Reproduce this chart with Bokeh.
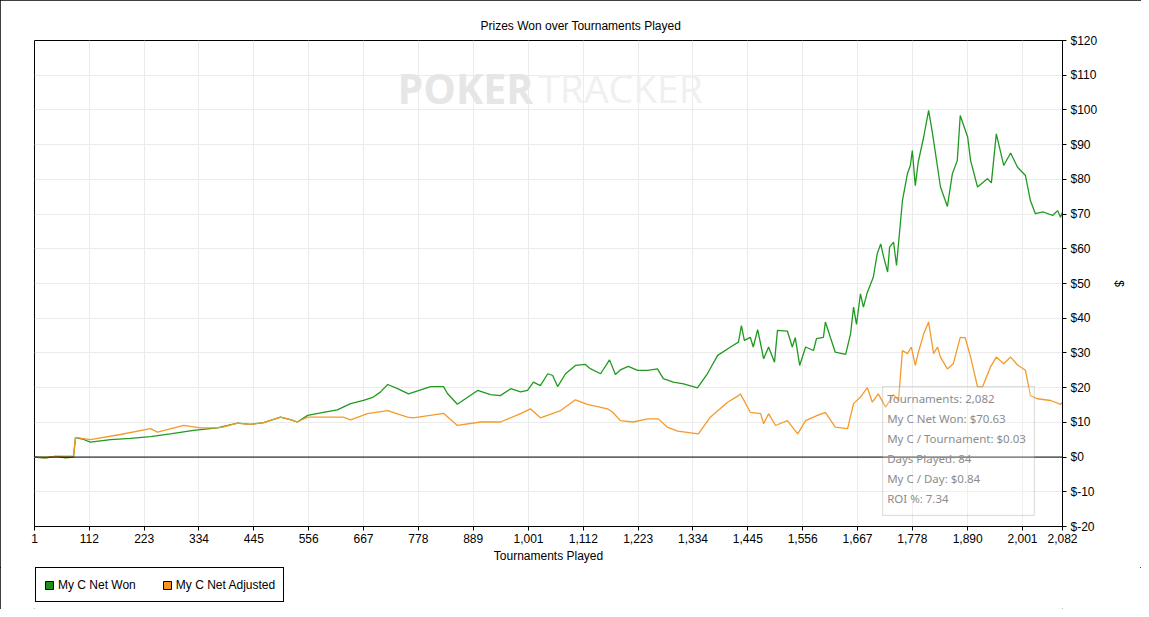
from bokeh.plotting import figure
from bokeh.layouts import column
from bokeh.models import (Range1d, FixedTicker, NumeralTickFormatter, PrintfTickFormatter,
                          LinearAxis, Span, Legend, LegendItem, BoxAnnotation, Label, Grid)
from bokeh.embed import file_html
from bokeh.resources import INLINE

# ---------------- data ----------------
won_t = [1, 23, 44, 64, 80, 84, 98, 114, 155, 195, 236, 276, 323, 371, 412, 438, 465, 499, 519,
         533, 554, 586, 614, 641, 667, 687, 701, 716, 736, 758, 803, 829, 837, 857, 898, 924,
         944, 965, 985, 999, 1011, 1025, 1040, 1050, 1060, 1076, 1096, 1116, 1127, 1147, 1165,
         1177, 1188, 1203, 1222, 1242, 1262, 1274, 1294, 1315, 1343, 1363, 1384, 1410, 1426,
         1432, 1438, 1450, 1456, 1465, 1477, 1487, 1499,
         1505, 1525, 1535, 1541, 1550, 1562, 1578, 1584, 1598, 1602, 1612, 1622, 1643, 1653,
         1659, 1665, 1673, 1679, 1687, 1699, 1707, 1714, 1720, 1728, 1732, 1740, 1746, 1758,
         1768, 1774, 1778, 1784, 1790, 1801, 1811, 1819, 1835, 1849, 1859, 1869, 1875, 1890,
         1896, 1910, 1930, 1938, 1948, 1963, 1977, 1991, 2007, 2017, 2027, 2043, 2062, 2072,
         2078, 2082]
won_v = [0, -0.3, 0.2, -0.2, 0, 5.6, 5.2, 4.3, 5.0, 5.4, 5.9, 6.7, 7.7, 8.4, 9.8, 9.4, 9.9, 11.5, 10.8,
         10.1, 12, 12.9, 13.6, 15.4, 16.3, 17.3, 18.7, 20.9, 19.7, 18.2, 20.3, 20.3, 18.3, 15.2, 19.2, 18.0,
         17.7, 19.7, 18.8, 19.2, 21.6, 20.6, 24, 23.5, 20.3, 24, 26.4, 26.7, 25.4, 24, 28,
         23.8, 25.2, 26.1, 25, 25, 25.4, 22.6, 21.6, 21.1, 19.9, 24, 29.3, 31.7, 33.1,
         37.9, 33.6, 34.5, 31.7, 36.7, 28.3, 31.7, 27.3,
         36.5, 36.3, 31.7, 34.4, 26.4, 31.7, 30.7, 34.1, 34.5, 38.9, 34.5, 30.2, 29.6, 35.5,
         43.2, 38.2, 47, 43.2, 47.5, 51.8, 58.6, 61.4, 57.6, 53.3, 60.5, 61.9, 55.2, 73.9,
         81.6, 84, 88.3, 78.2, 85, 92.2, 99.9, 93.1, 77.8, 72.2, 81.6, 85.4, 98.4, 92.2,
         85.4, 77.8, 80.2, 79, 93.1, 84, 87.6, 83.5, 81.1, 73.9, 70.1, 70.6, 69.6, 71,
         69.1, 70.63]

adj_t = [1, 23, 44, 80, 84, 114, 175, 236, 250, 303, 337, 371, 382, 412, 438, 465, 499, 519, 533,
         554, 626, 641, 675, 716, 756, 768, 829, 857, 904, 944, 985, 1005, 1025, 1066, 1096,
         1120, 1161, 1171, 1187, 1213, 1242, 1264, 1282, 1303, 1345, 1369, 1404, 1426, 1430,
         1450, 1471,
         1477, 1487, 1501, 1525, 1546, 1562, 1586, 1602, 1622, 1647, 1659, 1673, 1687, 1697,
         1709, 1724, 1740, 1750, 1758, 1768, 1776, 1784, 1790, 1801, 1811, 1821, 1829, 1835,
         1849, 1861, 1875, 1885, 1896, 1910, 1920, 1936, 1948, 1963, 1977, 1991, 2007, 2017,
         2031, 2058, 2078, 2082]
adj_v = [0, -0.2, 0.3, 0.3, 5.7, 5.0, 6.5, 8.2, 7.2, 9.1, 8.4, 8.4, 8.6, 9.8, 9.4, 9.9, 11.5, 10.8, 10.1,
         11.5, 11.5, 10.7, 12.5, 13.4, 11.5, 11.3, 12.6, 9.1, 10.1, 10.1, 12.5, 13.9, 11.3, 13.4, 16.5,
         15.2, 13.9, 13, 10.5, 10.1, 11, 11, 8.6, 7.5, 6.7, 11.5, 15.8, 17.7, 18.2,
         12.9, 12.5,
         9.6, 12.5, 9.1, 10.5, 6.7, 10.5, 12, 12.9, 8.6, 8.2, 15.4, 17.3, 20, 15.8,
         18.2, 14.4, 18, 16.3, 30.7, 29.8, 31.7, 26.4, 30, 35.5, 38.9, 29.8, 31.7, 28.8,
         25.4, 26.9, 34.5, 34.4, 28.8, 20.2, 20.2, 25.9, 28.8, 26.9, 28.8, 26.5, 25, 17.7,
         16.8, 16.3, 15.2, 15.8]

x_ticks = [1, 112, 223, 334, 445, 556, 667, 778, 889, 1001, 1112, 1223, 1334, 1445, 1556,
           1667, 1778, 1890, 2001, 2082]
y_ticks = [-20, -10, 0, 10, 20, 30, 40, 50, 60, 70, 80, 90, 100, 110, 120]

series_names = ["My C Net Won", "My C Net Adjusted"]
info_lines = ["Tournaments: 2,082", "My C Net Won: $70.63", "My C / Tournament: $0.03",
              "Days Played: 84", "My C / Day: $0.84", "ROI %: 7.34"]

GREEN = "#1f9a1f"
ORANGE = "#f59a2a"
FONT = "Liberation Sans"
NAN = float("nan")

p = figure(width=1141, height=567, output_backend="svg", toolbar_location=None,
           x_range=Range1d(1, 2082), y_range=Range1d(-20, 120),
           min_border_left=34, min_border_right=79, min_border_top=40, min_border_bottom=41,
           y_axis_location=None)
p.background_fill_color = "white"
p.border_fill_color = "white"
p.outline_line_color = "black"
p.outline_line_width = 1

p.title.text = "Prizes Won over Tournaments Played"
p.title.text_font = FONT
p.title.text_font_size = "12px"
p.title.text_font_style = "normal"
p.title.text_color = "black"
p.title.align = "left"
p.title.offset = 446
p.title.standoff = 15

# x axis
xa = p.xaxis[0]
xa.ticker = FixedTicker(ticks=x_ticks)
xa.formatter = NumeralTickFormatter(format="0,0")
xa.axis_label = "Tournaments Played"
xa.axis_label_text_font = FONT
xa.axis_label_text_font_size = "12px"
xa.axis_label_text_font_style = "normal"
xa.axis_label_text_color = "black"
xa.axis_label_standoff = 3
xa.major_label_text_font = FONT
xa.major_label_text_font_size = "12px"
xa.major_label_text_color = "black"
xa.major_label_standoff = 3
xa.major_tick_out = 4
xa.major_tick_in = 0
xa.minor_tick_out = 0
xa.minor_tick_in = 0
xa.axis_line_color = "black"
xa.major_tick_line_color = "black"

# right y axis
ya = LinearAxis(ticker=FixedTicker(ticks=y_ticks), formatter=PrintfTickFormatter(format="$%d"))
ya.axis_label = "$"
ya.axis_label_text_font = FONT
ya.axis_label_text_font_size = "12px"
ya.axis_label_text_font_style = "normal"
ya.axis_label_text_color = "black"
ya.axis_label_standoff = 12
ya.major_label_text_font = FONT
ya.major_label_text_font_size = "12px"
ya.major_label_text_color = "black"
ya.major_label_standoff = 4
ya.major_tick_out = 4
ya.major_tick_in = 0
ya.minor_tick_out = 0
ya.minor_tick_in = 0
ya.axis_line_color = "black"
ya.major_tick_line_color = "black"
p.add_layout(ya, "right")

p.xgrid.ticker = FixedTicker(ticks=x_ticks)
p.xgrid.grid_line_color = "#ebebeb"
p.ygrid.grid_line_color = None
yg = Grid(dimension=1, ticker=FixedTicker(ticks=y_ticks), grid_line_color="#ebebeb")
p.add_layout(yg)

# watermark
p.add_layout(Label(x=736, y=106.4, text="POKER", text_font="Open Sans", text_font_style="bold",
                   text_font_size="41px", text_color="#e6e6e6", text_baseline="alphabetic"))
p.add_layout(Label(x=1021, y=106.4, text="TRACKER", text_font="Open Sans",
                   text_font_size="39px", text_color="#f0f0f0", text_baseline="alphabetic"))

p.add_layout(Span(location=0, dimension="width", line_color="black", line_width=1))

r_won = p.line(won_t, won_v, line_color=GREEN, line_width=1.3)
r_adj = p.line(adj_t, adj_v, line_color=ORANGE, line_width=1.3)

# info box
p.add_layout(BoxAnnotation(left=1718, right=2025, top=20.3, bottom=-16.8,
                           fill_color="white", fill_alpha=0.25,
                           line_color="#808080", line_width=1))
info_y = [16.9, 11.1, 5.4, -0.4, -6.2, -11.9]
for txt, yy in zip(info_lines, info_y):
    p.add_layout(Label(x=1727, y=yy, text=txt, text_font="Noto Sans", text_font_size="11.5px",
                       text_color="#8c8c8c", text_baseline="middle"))

# legend strip (separate small figure, frames aligned with the chart)
pl = figure(width=1141, height=42, output_backend="svg", toolbar_location=None,
            x_range=Range1d(0, 1), y_range=Range1d(0, 1),
            min_border_left=0, min_border_right=0, min_border_top=0, min_border_bottom=0,
            x_axis_location=None, y_axis_location=None)
pl.outline_line_color = None
pl.grid.grid_line_color = None
pl.background_fill_color = "white"
pl.border_fill_color = "white"
q1 = pl.quad(left=[NAN], right=[NAN], top=[NAN], bottom=[NAN],
             fill_color="#1a8f1a", line_color="black")
q2 = pl.quad(left=[NAN], right=[NAN], top=[NAN], bottom=[NAN],
             fill_color="#f7941d", line_color="black")
legend = Legend(items=[LegendItem(label=series_names[0], renderers=[q1], index=0),
                       LegendItem(label=series_names[1], renderers=[q2], index=0)],
                orientation="horizontal", location=(1, 7),
                glyph_width=10, glyph_height=10, label_height=17, padding=8, spacing=26,
                label_standoff=4, margin=0, border_line_color="black", border_line_width=1,
                border_line_alpha=1,
                background_fill_color="white", background_fill_alpha=1,
                label_text_font=FONT, label_text_font_size="12px", label_text_color="black")
pl.add_layout(legend, "center")

layout = column(p, pl, spacing=0)
layout.styles = {"outline": "1px solid black", "outline-offset": "-1px"}

open("out.html", "w").write(file_html(layout, INLINE))
